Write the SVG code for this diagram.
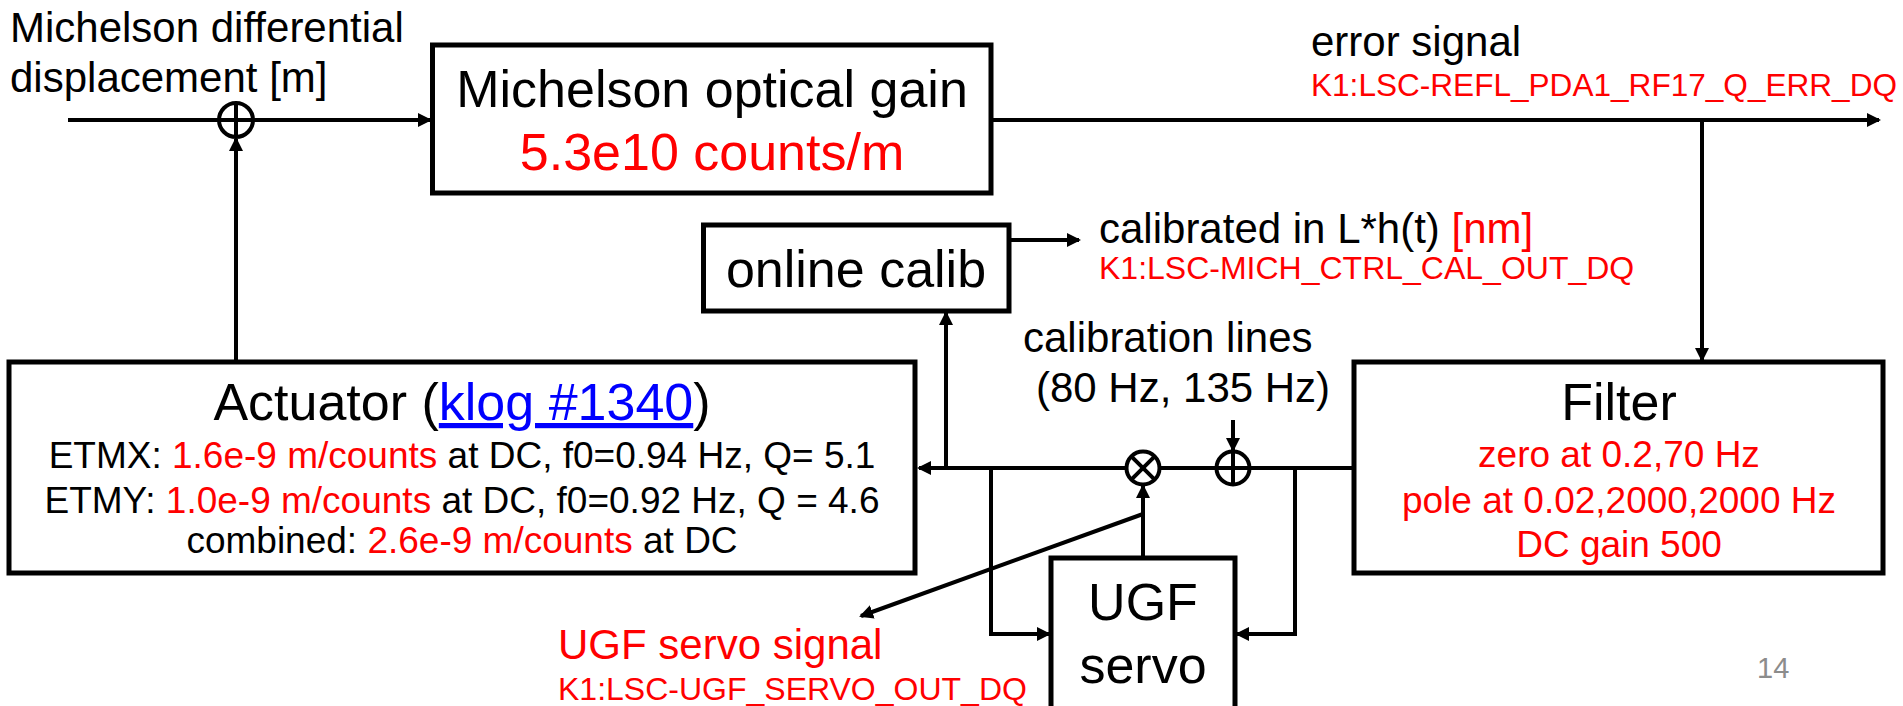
<svg xmlns="http://www.w3.org/2000/svg" width="1903" height="706" viewBox="0 0 1903 706">
<style>
text{font-family:"Liberation Sans",Arial,sans-serif;fill:#000}
.t42{font-size:42px}
.t52{font-size:52px}
.t37{font-size:37px}
.t32{font-size:32px}
.red{fill:#FF0000}
.blue{fill:#0000FF}
.mid{text-anchor:middle}
.box{fill:#fff;stroke:#000;stroke-width:5}
.ln{fill:none;stroke:#000;stroke-width:4}
.arr{fill:none;stroke:#000;stroke-width:4;marker-end:url(#ah)}
.sym{fill:#fff;stroke:#000;stroke-width:4}
</style>
<defs>
<marker id="ah" markerUnits="userSpaceOnUse" markerWidth="16" markerHeight="16" refX="12" refY="7" orient="auto">
<path d="M0,0 L14,7 L0,14 z" fill="#000"/>
</marker>
</defs>
<rect width="1903" height="706" fill="#fff"/>

<g id="connectors">
<line class="arr" x1="68" y1="120" x2="430" y2="120"/>
<line class="arr" x1="991" y1="120" x2="1879" y2="120"/>
<line class="arr" x1="1702" y1="120" x2="1702" y2="360"/>
<line class="arr" x1="236" y1="362" x2="236" y2="139"/>
<line class="ln" x1="1354" y1="468" x2="1249" y2="468"/>
<line class="ln" x1="1217" y1="468" x2="1159" y2="468"/>
<line class="arr" x1="1126" y1="468" x2="919" y2="468"/>
<line class="arr" x1="946" y1="468" x2="946" y2="313"/>
<line class="arr" x1="1009" y1="240" x2="1079" y2="240"/>
<polyline class="arr" points="991,468 991,634 1049,634"/>
<polyline class="arr" points="1295,468 1295,634 1237,634"/>
<line class="arr" x1="1233" y1="420" x2="1233" y2="450"/>
<line class="arr" x1="1143" y1="558" x2="1143" y2="486"/>
<line class="arr" x1="1143" y1="514" x2="861" y2="616"/>
</g>

<g id="sum-top">
<circle class="sym" cx="236" cy="120" r="17"/>
<line class="ln" x1="219" y1="120" x2="253" y2="120"/>
<line class="ln" x1="236" y1="103" x2="236" y2="137"/>
</g>

<g id="mult">
<circle class="sym" cx="1143" cy="468" r="16.5"/>
<line class="ln" x1="1131.3" y1="456.3" x2="1154.7" y2="479.7"/>
<line class="ln" x1="1154.7" y1="456.3" x2="1131.3" y2="479.7"/>
</g>

<g id="sum-bottom">
<circle class="sym" cx="1233" cy="468" r="16.5"/>
<line class="ln" x1="1216.5" y1="468" x2="1249.5" y2="468"/>
<line class="ln" x1="1233" y1="451.5" x2="1233" y2="484.5"/>
</g>

<g id="input-label">
<text class="t42" x="10" y="42">Michelson differential</text>
<text class="t42" x="10" y="92">displacement [m]</text>
</g>

<g id="optical-gain">
<rect class="box" x="432.5" y="45" width="558.5" height="148"/>
<text class="t52 mid" x="712" y="107">Michelson optical gain</text>
<text class="t52 mid red" x="712" y="170">5.3e10 counts/m</text>
</g>

<g id="error-signal">
<text class="t42" x="1311" y="56">error signal</text>
<text class="t32 red" x="1311" y="96" textLength="586" lengthAdjust="spacingAndGlyphs">K1:LSC-REFL_PDA1_RF17_Q_ERR_DQ</text>
</g>

<g id="online-calib">
<rect class="box" x="703.5" y="225" width="305.5" height="86"/>
<text class="t52 mid" x="856" y="287">online calib</text>
</g>

<g id="calibrated-label">
<text class="t42" x="1099" y="243">calibrated in L*h(t) <tspan class="red">[nm]</tspan></text>
<text class="t32 red" x="1099" y="279">K1:LSC-MICH_CTRL_CAL_OUT_DQ</text>
</g>

<g id="calibration-lines">
<text class="t42" x="1023" y="352">calibration lines</text>
<text class="t42" x="1036" y="402">(80 Hz, 135 Hz)</text>
</g>

<g id="actuator">
<rect class="box" x="9" y="362" width="906" height="211"/>
<text class="t52 mid" x="462" y="420">Actuator (<tspan class="blue" text-decoration="underline">klog #1340</tspan>)</text>
<text class="t37 mid" x="462" y="468">ETMX: <tspan class="red">1.6e-9 m/counts</tspan> at DC, f0=0.94 Hz, Q= 5.1</text>
<text class="t37 mid" x="462" y="513">ETMY: <tspan class="red">1.0e-9 m/counts</tspan> at DC, f0=0.92 Hz, Q = 4.6</text>
<text class="t37 mid" x="462" y="553">combined: <tspan class="red">2.6e-9 m/counts</tspan> at DC</text>
</g>

<g id="filter">
<rect class="box" x="1354" y="362" width="529" height="211"/>
<text class="t52 mid" x="1619" y="420">Filter</text>
<text class="t37 mid red" x="1619" y="467">zero at 0.2,70 Hz</text>
<text class="t37 mid red" x="1619" y="513">pole at 0.02,2000,2000 Hz</text>
<text class="t37 mid red" x="1619" y="557">DC gain 500</text>
</g>

<g id="ugf-servo">
<rect class="box" x="1051" y="558" width="184" height="170"/>
<text class="t52 mid" x="1143" y="620">UGF</text>
<text class="t52 mid" x="1143" y="683">servo</text>
</g>

<g id="ugf-signal">
<text class="t42 red" x="558" y="659">UGF servo signal</text>
<text class="t32 red" x="558" y="700">K1:LSC-UGF_SERVO_OUT_DQ</text>
</g>

<text x="1757" y="678" style="font-size:29px;fill:#8c8c8c">14</text>
</svg>
